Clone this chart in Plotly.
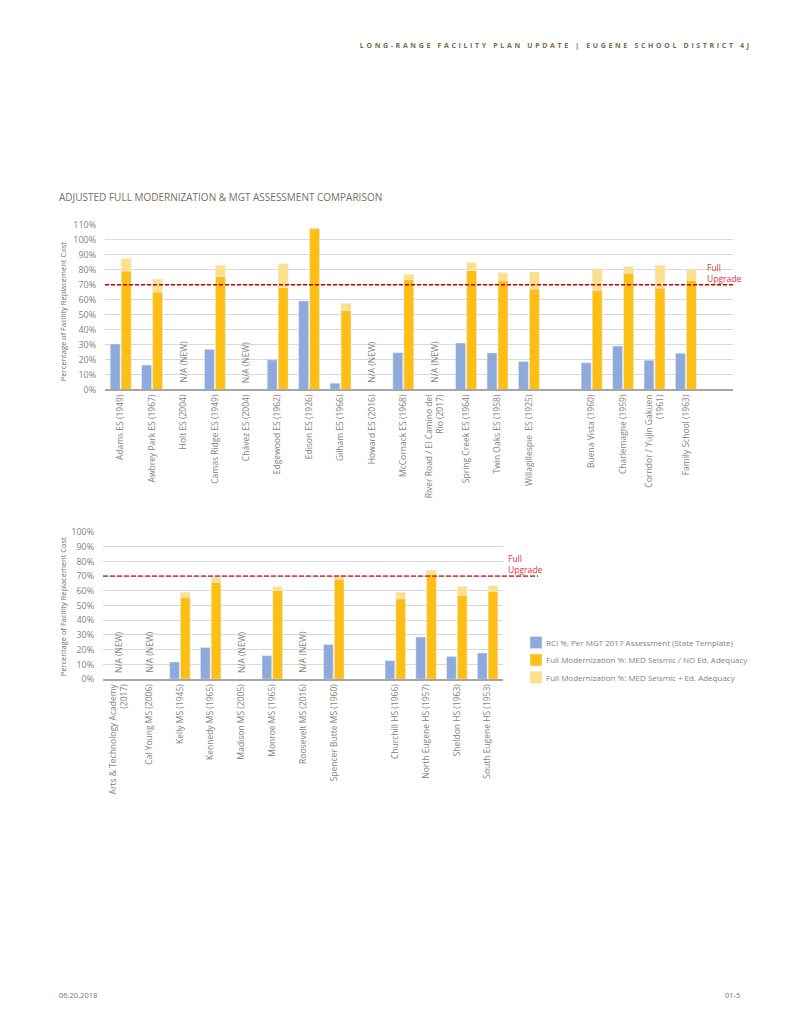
import plotly.graph_objects as go

# ---------------- DATA ----------------
top_es_names = ["Adams ES (1949)", "Awbrey Park ES (1967)", "Holt ES (2004)", "Camas Ridge ES (1949)",
                "Chávez ES (2004)", "Edgewood ES (1962)", "Edison ES (1926)", "Gilham ES (1966)",
                "Howard ES (2016)", "McCornack ES (1968)", "River Road / El Camino del<br>Rio (2017)",
                "Spring Creek ES (1964)", "Twin Oaks ES (1958)", "Willagillespie  ES (1925)"]
top_es_rci = [30.4, 16.3, None, 26.8, None, 19.8, 59.2, 4.2, None, 24.6, None, 31.0, 24.4, 18.7]
top_es_med = [79.2, 65.1, None, 75.5, None, 68.2, 107.6, 52.8, None, 73.5, None, 79.6, 73.0, 67.1]
top_es_edu = [87.6, 73.7, None, 82.9, None, 84.0, 108.0, 57.6, None, 77.0, None, 84.9, 78.1, 78.5]

top_alt_names = ["Buena Vista (1960)", "Charlemagne (1959)", "Corridor / Yujin Gakuen<br>(1961)",
                 "Family School (1963)"]
top_alt_rci = [17.8, 29.0, 19.6, 24.2]
top_alt_med = [66.4, 77.7, 67.8, 73.0]
top_alt_edu = [80.7, 82.3, 83.0, 80.1]

ms_names = ["Arts & Technology Academy<br>(2017)", "Cal Young MS (2006)", "Kelly MS (1945)",
            "Kennedy MS (1965)", "Madison MS (2005)", "Monroe MS (1965)", "Roosevelt MS (2016)",
            "Spencer Butte MS (1960)"]
ms_rci = [None, None, 11.6, 21.5, None, 15.9, None, 23.5]
ms_med = [None, None, 55.7, 65.8, None, 60.2, None, 68.0]
ms_edu = [None, None, 59.0, 68.9, None, 62.9, None, 70.7]

hs_names = ["Churchill HS (1966)", "North Eugene HS (1957)", "Sheldon HS (1963)", "South Eugene HS (1953)"]
hs_rci = [12.5, 28.6, 15.4, 17.7]
hs_med = [54.6, 71.4, 57.0, 59.7]
hs_edu = [59.0, 74.0, 63.1, 63.5]

full_upgrade_threshold = 70
series_names = ["RCI %, Per MGT 2017 Assessment (State Template)",
                "Full Modernization %: MED Seismic / NO Ed. Adequacy",
                "Full Modernization %: MED Seismic + Ed. Adequacy"]
na_label = "N/A (NEW)"

# ---------------- STYLE ----------------
BLUE = "#8eaadb"
ORANGE = "#fdbf14"
LIGHT = "#ffe08a"
GRID = "#d9d9d9"
TXT = "#8a8079"
FONT = "Open Sans"

# figure sized to fit inside the 800x1035 window with the page's default 8px body margin
OFF = 8
W, H = 784, 1012


def px(x):
    return (x - OFF) / W


def py(y):
    return 1 - (y - OFF) / H


fig = go.Figure()

# build category lists with spacer slots
top_x = top_es_names + [" "] + top_alt_names + ["  "]
top_rci = top_es_rci + [None] + top_alt_rci + [None]
top_med = top_es_med + [None] + top_alt_med + [None]
top_edu = top_es_edu + [None] + top_alt_edu + [None]

bot_x = ms_names + [" "] + hs_names
bot_rci = ms_rci + [None] + hs_rci
bot_med = ms_med + [None] + hs_med
bot_edu = ms_edu + [None] + hs_edu


def add_panel(xs, rci, med, edu, xa, ya, show):
    extra = [(e - m) if (e is not None and m is not None) else None for e, m in zip(edu, med)]
    base = [m if m is not None else 0 for m in med]
    fig.add_trace(go.Bar(x=xs, y=rci, name=series_names[0], marker_color=BLUE, offsetgroup="a",
                         xaxis=xa, yaxis=ya, showlegend=show, legendgroup="rci"))
    fig.add_trace(go.Bar(x=xs, y=med, name=series_names[1], marker_color=ORANGE, offsetgroup="b",
                         xaxis=xa, yaxis=ya, showlegend=show, legendgroup="med"))
    fig.add_trace(go.Bar(x=xs, y=extra, base=base, name=series_names[2], marker_color=LIGHT,
                         offsetgroup="b", xaxis=xa, yaxis=ya, showlegend=show, legendgroup="edu"))
    # N/A labels
    for name, r, m in zip(xs, rci, med):
        if r is None and m is None and name.strip():
            fig.add_annotation(x=name, y=3, xref=xa, yref=ya, text=na_label, textangle=-90,
                               showarrow=False, yanchor="bottom", xanchor="center",
                               font=dict(family=FONT, size=8.5, color=TXT))


add_panel(top_x, top_rci, top_med, top_edu, "x", "y", True)
add_panel(bot_x, bot_rci, bot_med, bot_edu, "x2", "y2", False)

xcommon = dict(type="category", tickangle=-90, showgrid=False, showline=True, linecolor="#a6a6a6",
               linewidth=1.5, tickfont=dict(family=FONT, size=8.5, color=TXT), ticks="")
ycommon = dict(dtick=10, ticksuffix="%", showgrid=True, gridcolor=GRID, gridwidth=1.3, zeroline=False,
               showline=False, tickfont=dict(family=FONT, size=9, color=TXT),
               ticks="outside", ticklen=6, tickcolor="rgba(0,0,0,0)")

fig.update_layout(
    xaxis=dict(domain=[px(105), px(733)], anchor="y", categoryorder="array", categoryarray=top_x, **xcommon),
    yaxis=dict(domain=[py(387.3), py(220.7)], anchor="x", range=[0, 110], **ycommon),
    xaxis2=dict(domain=[px(103), px(503)], anchor="y2", categoryorder="array", categoryarray=bot_x, **xcommon),
    yaxis2=dict(domain=[py(680.7), py(531.7)], anchor="x2", range=[0, 100], **ycommon),
)

# threshold lines
fig.add_shape(type="line", xref="x domain", yref="y", x0=0, x1=1, y0=full_upgrade_threshold,
              y1=full_upgrade_threshold, line=dict(color="#c00000", width=1.3, dash="4px,2px"))
fig.add_shape(type="line", xref="x2 domain", yref="y2", x0=0, x1=(538 - 103) / 400, y0=full_upgrade_threshold,
              y1=full_upgrade_threshold, line=dict(color="#cc4b4b", width=1.8, dash="5px,2px"))

fig.add_annotation(xref="paper", yref="paper", x=px(705), y=py(269), text="Full<br>Upgrade", showarrow=False,
                   xanchor="left", yanchor="middle", align="left",
                   font=dict(family=FONT, size=8.5, color="#e0303a"))
fig.add_annotation(xref="paper", yref="paper", x=px(506), y=py(564), text="Full<br>Upgrade", showarrow=False,
                   xanchor="left", yanchor="middle", align="left",
                   font=dict(family=FONT, size=8.5, color="#e0303a"))

# y-axis titles
for yc in (308, 607):
    fig.add_annotation(xref="paper", yref="paper", x=px(63), y=py(yc), text="Percentage of Facility Replacement Cost",
                       textangle=-90, showarrow=False, xanchor="center", yanchor="middle",
                       font=dict(family=FONT, size=7.5, color="#70665f"))

# chart title
fig.add_annotation(xref="paper", yref="paper", x=px(57), y=py(192), text="ADJUSTED FULL MODERNIZATION &amp; MGT ASSESSMENT COMPARISON",
                   showarrow=False, xanchor="left", yanchor="middle",
                   font=dict(family=FONT, size=10, color="#7a6e64"))

# header (letter-spaced in post script, centred so spacing grows symmetrically)
fig.add_annotation(xref="paper", yref="paper", x=px(556), y=py(39), text="<b>LONG-RANGE FACILITY PLAN UPDATE | EUGENE SCHOOL DISTRICT 4J</b>",
                   showarrow=False, xanchor="center", yanchor="middle",
                   font=dict(family=FONT, size=7, color="#7b6a52"))

# footer
fig.add_annotation(xref="paper", yref="paper", x=px(57), y=py(1001), text="06.20.2018", showarrow=False,
                   xanchor="left", yanchor="middle", font=dict(family=FONT, size=7.5, color="#7a7068"))
fig.add_annotation(xref="paper", yref="paper", x=px(742), y=py(1001), text="01-5", showarrow=False,
                   xanchor="right", yanchor="middle", font=dict(family=FONT, size=7.5, color="#7a7068"))

fig.update_layout(
    width=W, height=H, margin=dict(l=0, r=0, t=0, b=0),
    paper_bgcolor="white", plot_bgcolor="white",
    barmode="group", bargap=0.3, bargroupgap=0.1,
    showlegend=True,
    legend=dict(x=px(516), y=py(629), xanchor="left", yanchor="top", bgcolor="rgba(0,0,0,0)",
                font=dict(family=FONT, size=8, color=TXT), traceorder="normal"),
)

post = """
document.querySelectorAll('.annotation-text').forEach(function(t){
  if (t.textContent.indexOf('LONG-RANGE') === 0) { t.style.letterSpacing = '2.65px'; }
});
var items = document.querySelectorAll('.legend .traces');
var y0 = null;
items.forEach(function(g, i){
  var m = /translate\\(([-\\d.]+),\\s*([-\\d.]+)\\)/.exec(g.getAttribute('transform') || '');
  if (m) {
    if (y0 === null) { y0 = parseFloat(m[2]); }
    g.setAttribute('transform', 'translate(' + m[1] + ',' + (y0 + i * 17.5) + ')');
  }
  var t = g.querySelector('.legendtext');
  if (t) { t.setAttribute('x', '30'); }
});
"""
fig.write_html("out.html", post_script=post, config={"displayModeBar": False})
